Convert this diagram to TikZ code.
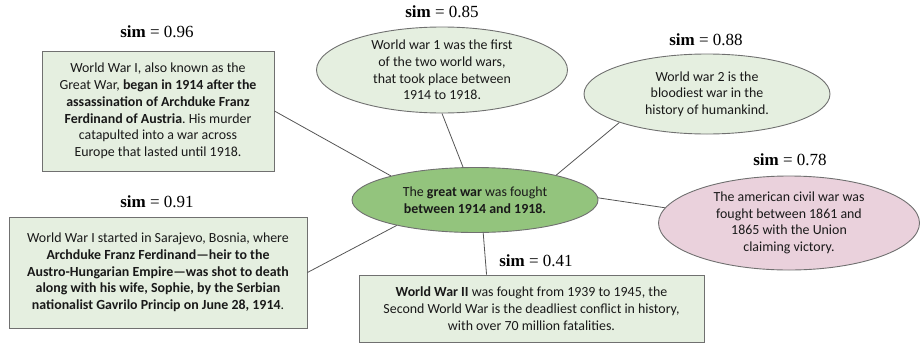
\documentclass[tikz,border=0pt]{standalone}
\usepackage{fontspec}
\setmainfont{Carlito}
\newfontfamily\simfont{Liberation Serif}
\usetikzlibrary{shapes.geometric}
\frenchspacing
\definecolor{lightgr}{HTML}{E5EFE0}
\definecolor{midgr}{HTML}{93C47D}
\definecolor{pinkf}{HTML}{EAD1DC}
\definecolor{edgegray}{HTML}{707070}
\definecolor{linegray}{HTML}{555555}
\tikzset{
  txt/.style={font=\fontsize{13.9}{16.7}\selectfont, align=center, text=black!90},
  boxnode/.style={txt, draw=edgegray, fill=lightgr, line width=0.9pt, inner sep=0pt},
  ellnode/.style={txt, ellipse, draw=edgegray, line width=0.9pt, inner sep=0pt},
  simlabel/.style={font=\simfont\fontsize{17}{19}\selectfont, inner sep=0pt},
  conn/.style={draw=linegray, line width=0.8pt}
}
\begin{document}
\begin{tikzpicture}[x=1pt,y=-1pt]
\useasboundingbox (0,0) rectangle (920,343);
% central
\node[ellnode, fill=midgr, minimum width=246pt, minimum height=65pt] (c) at (475,200)
  {The \textbf{great war} was fought\\ \textbf{between 1914 and 1918.}};
% box 1
\node[boxnode, minimum width=232pt, minimum height=120pt] (b1) at (158,111)
  {World War I, also known as the\\ Great War, \textbf{began in 1914 after the}\\ \textbf{assassination of Archduke Franz}\\ \textbf{Ferdinand of Austria}. His murder\\ catapulted into a war across\\ Europe that lasted until 1918.};
\node[simlabel] (s1) at (157,32) {\textbf{sim} = 0.96};
% box 2
\node[boxnode, minimum width=298pt, minimum height=111pt] (b2) at (158,272.5)
  {World War I started in Sarajevo, Bosnia, where\\ \textbf{Archduke Franz Ferdinand---heir to the}\\ \textbf{Austro-Hungarian Empire---was shot to death}\\ \textbf{along with his wife, Sophie, by the Serbian}\\ \textbf{nationalist Gavrilo Princip on June 28, 1914}.};
\node[simlabel] (s2) at (157,202) {\textbf{sim} = 0.91};
% ellipse 1
\node[ellnode, fill=lightgr, minimum width=251pt, minimum height=86pt] (e1) at (442,70)
  {World war 1 was the first\\ of the two world wars,\\ that took place between\\ 1914 to 1918.};
\node[simlabel] (s3) at (442,12) {\textbf{sim} = 0.85};
% ellipse 2
\node[ellnode, fill=lightgr, minimum width=246pt, minimum height=80pt] (e2) at (707,94)
  {World war 2 is the\\ bloodiest war in the\\ history of humankind.};
\node[simlabel] (s4) at (706,40) {\textbf{sim} = 0.88};
% pink ellipse
\node[ellnode, fill=pinkf, minimum width=261pt, minimum height=94pt] (e3) at (789,223)
  {The american civil war was\\ fought between 1861 and\\ 1865 with the Union\\ claiming victory.};
\node[simlabel] (s5) at (790,160) {\textbf{sim} = 0.78};
% box 3
\node[boxnode, minimum width=345pt, minimum height=67pt] (b3) at (531.5,308.5)
  {\textbf{World War II} was fought from 1939 to 1945, the\\ Second World War is the deadliest conflict in history,\\ with over 70 million fatalities.};
\node[simlabel] (s6) at (536,261) {\textbf{sim} = 0.41};
% connectors
\draw[conn] (c.164) -- (b1.east);
\draw[conn] (c.110) -- (e1.south);
\draw[conn] (c.17) -- (e2.198);
\draw[conn] (c.1) -- (e3.173);
\draw[conn] (c.198) -- (b2.east);
\draw[conn] (c.284) -- ([xshift=128pt]b3.north west);
\end{tikzpicture}
\end{document}
